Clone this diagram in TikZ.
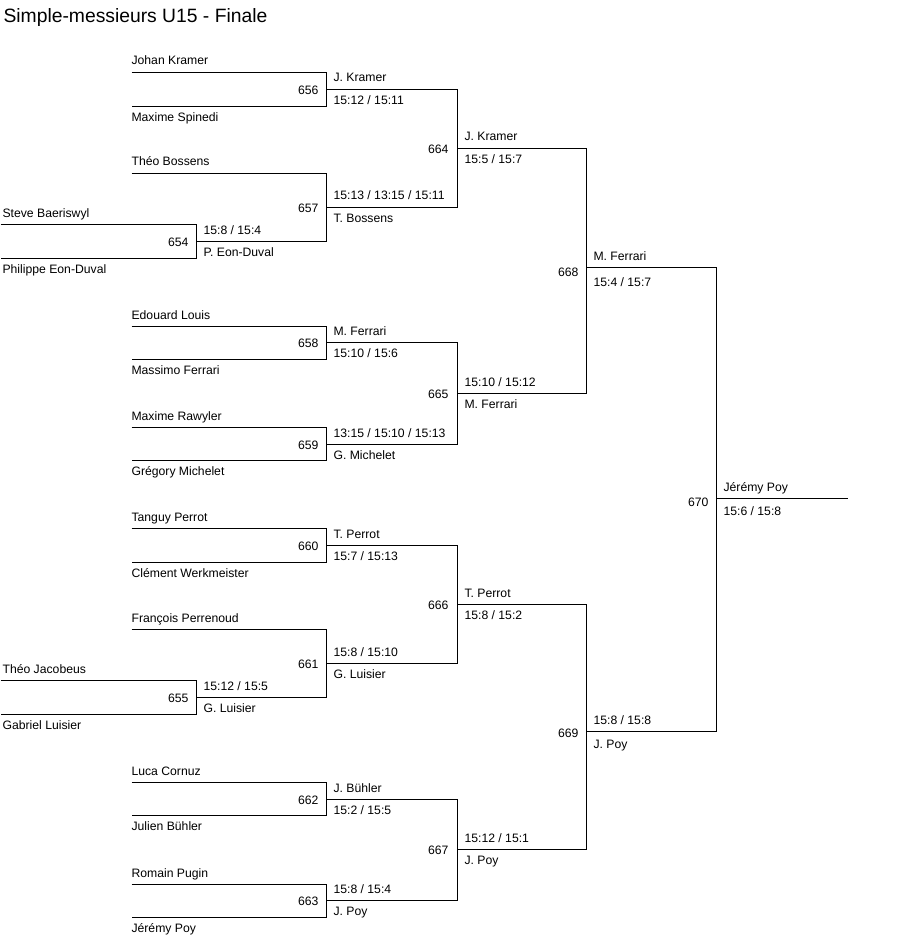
\documentclass[tikz,border=0pt]{standalone}
\usepackage{fontspec}
\setmainfont{Liberation Sans}

\begin{document}
\begin{tikzpicture}[x=1pt,y=-1pt,line width=1.1pt,
  name node/.style={anchor=base west,inner sep=0pt,font=\fontsize{12.2}{14}\selectfont},
  num node/.style={anchor=east,inner sep=0pt,font=\fontsize{12.2}{14}\selectfont},
  title node/.style={anchor=base west,inner sep=0pt,font=\fontsize{19.3}{22}\selectfont}]
  \useasboundingbox (0,0) rectangle (913,944);
  \node[title node] (title) at (3,22.5) {Simple-messieurs U15 - Finale};
  \begin{scope}[shift={(0.5,0.5)}]
  % line starts of the players
  \coordinate (p01) at (131,72);
  \coordinate (p02) at (131,106);
  \coordinate (p03) at (131,173);
  \coordinate (p04) at (0,224);
  \coordinate (p05) at (0,258);
  \coordinate (p06) at (131,326);
  \coordinate (p07) at (131,359);
  \coordinate (p08) at (131,427);
  \coordinate (p09) at (131,460);
  \coordinate (p10) at (131,528);
  \coordinate (p11) at (131,562);
  \coordinate (p12) at (131,629);
  \coordinate (p13) at (0,680);
  \coordinate (p14) at (0,714);
  \coordinate (p15) at (131,782);
  \coordinate (p16) at (131,815);
  \coordinate (p17) at (131,884);
  \coordinate (p18) at (131,917);
  % match points
  \coordinate (m654) at (196,241);
  \coordinate (m655) at (196,697);
  \coordinate (m656) at (326,89);
  \coordinate (m657) at (326,207);
  \coordinate (m658) at (326,342);
  \coordinate (m659) at (326,444);
  \coordinate (m660) at (326,545);
  \coordinate (m661) at (326,663);
  \coordinate (m662) at (326,799);
  \coordinate (m663) at (326,900);
  \coordinate (m664) at (457,148);
  \coordinate (m665) at (457,393);
  \coordinate (m666) at (457,604);
  \coordinate (m667) at (457,849);
  \coordinate (m668) at (586,267);
  \coordinate (m669) at (586,731);
  \coordinate (m670) at (716,498);
  \coordinate (champ) at (847,498);
  % brackets
  \draw (p04) -| (m654) |- (p05);
  \draw (p13) -| (m655) |- (p14);
  \draw (p01) -| (m656) |- (p02);
  \draw (p03) -| (m657) |- (m654);
  \draw (p06) -| (m658) |- (p07);
  \draw (p08) -| (m659) |- (p09);
  \draw (p10) -| (m660) |- (p11);
  \draw (p12) -| (m661) |- (m655);
  \draw (p15) -| (m662) |- (p16);
  \draw (p17) -| (m663) |- (p18);
  \draw (m656) -| (m664) |- (m657);
  \draw (m658) -| (m665) |- (m659);
  \draw (m660) -| (m666) |- (m661);
  \draw (m662) -| (m667) |- (m663);
  \draw (m664) -| (m668) |- (m665);
  \draw (m666) -| (m669) |- (m667);
  \draw (m668) -| (m670) |- (m669);
  \draw (m670) -- (champ);
  \end{scope}
  % players
  \node[name node] (n01) at (131,65)    {Johan Kramer};
  \node[name node] (n02) at (131,121.5) {Maxime Spinedi};
  \node[name node] (n03) at (131,166)   {Théo Bossens};
  \node[name node] (n04) at (2,217)     {Steve Baeriswyl};
  \node[name node] (n05) at (2,273.5)   {Philippe Eon-Duval};
  \node[name node] (n06) at (131,319)   {Edouard Louis};
  \node[name node] (n07) at (131,374.5) {Massimo Ferrari};
  \node[name node] (n08) at (131,420)   {Maxime Rawyler};
  \node[name node] (n09) at (131,475.5) {Grégory Michelet};
  \node[name node] (n10) at (131,521)   {Tanguy Perrot};
  \node[name node] (n11) at (131,577.5) {Clément Werkmeister};
  \node[name node] (n12) at (131,622)   {François Perrenoud};
  \node[name node] (n13) at (2,673)     {Théo Jacobeus};
  \node[name node] (n14) at (2,729.5)   {Gabriel Luisier};
  \node[name node] (n15) at (131,775)   {Luca Cornuz};
  \node[name node] (n16) at (131,830.5) {Julien Bühler};
  \node[name node] (n17) at (131,877)   {Romain Pugin};
  \node[name node] (n18) at (131,932.5) {Jérémy Poy};
  % match numbers
  \node[num node] (t654) at (189,242) {654};
  \node[num node] (t655) at (189,698) {655};
  \node[num node] (t656) at (319,90)  {656};
  \node[num node] (t657) at (319,208) {657};
  \node[num node] (t658) at (319,343) {658};
  \node[num node] (t659) at (319,445) {659};
  \node[num node] (t660) at (319,546) {660};
  \node[num node] (t661) at (319,664) {661};
  \node[num node] (t662) at (319,800) {662};
  \node[num node] (t663) at (319,901) {663};
  \node[num node] (t664) at (449,149) {664};
  \node[num node] (t665) at (449,394) {665};
  \node[num node] (t666) at (449,605) {666};
  \node[num node] (t667) at (449,850) {667};
  \node[num node] (t668) at (579,272) {668};
  \node[num node] (t669) at (579,733) {669};
  \node[num node] (t670) at (709,502) {670};
  % winners and scores
  \node[name node] (w654) at (203,234)   {15:8 / 15:4};
  \node[name node] (s654) at (203,256.5) {P. Eon-Duval};
  \node[name node] (w655) at (203,690)   {15:12 / 15:5};
  \node[name node] (s655) at (203,712.5) {G. Luisier};
  \node[name node] (w656) at (333,82)    {J. Kramer};
  \node[name node] (s656) at (333,104.5) {15:12 / 15:11};
  \node[name node] (w657) at (333,200)   {15:13 / 13:15 / 15:11};
  \node[name node] (s657) at (333,222.5) {T. Bossens};
  \node[name node] (w658) at (333,335)   {M. Ferrari};
  \node[name node] (s658) at (333,357.5) {15:10 / 15:6};
  \node[name node] (w659) at (333,437)   {13:15 / 15:10 / 15:13};
  \node[name node] (s659) at (333,459.5) {G. Michelet};
  \node[name node] (w660) at (333,538)   {T. Perrot};
  \node[name node] (s660) at (333,560.5) {15:7 / 15:13};
  \node[name node] (w661) at (333,656)   {15:8 / 15:10};
  \node[name node] (s661) at (333,678.5) {G. Luisier};
  \node[name node] (w662) at (333,792)   {J. Bühler};
  \node[name node] (s662) at (333,814.5) {15:2 / 15:5};
  \node[name node] (w663) at (333,893)   {15:8 / 15:4};
  \node[name node] (s663) at (333,915.5) {J. Poy};
  \node[name node] (w664) at (464,141)   {J. Kramer};
  \node[name node] (s664) at (464,163.5) {15:5 / 15:7};
  \node[name node] (w665) at (464,386)   {15:10 / 15:12};
  \node[name node] (s665) at (464,408.5) {M. Ferrari};
  \node[name node] (w666) at (464,597)   {T. Perrot};
  \node[name node] (s666) at (464,619.5) {15:8 / 15:2};
  \node[name node] (w667) at (464,842)   {15:12 / 15:1};
  \node[name node] (s667) at (464,864.5) {J. Poy};
  \node[name node] (w668) at (593,260)   {M. Ferrari};
  \node[name node] (s668) at (593,286.5) {15:4 / 15:7};
  \node[name node] (w669) at (593,724)   {15:8 / 15:8};
  \node[name node] (s669) at (593,748.5) {J. Poy};
  \node[name node] (w670) at (723,491)   {Jérémy Poy};
  \node[name node] (s670) at (723,515.5) {15:6 / 15:8};
\end{tikzpicture}
\end{document}
